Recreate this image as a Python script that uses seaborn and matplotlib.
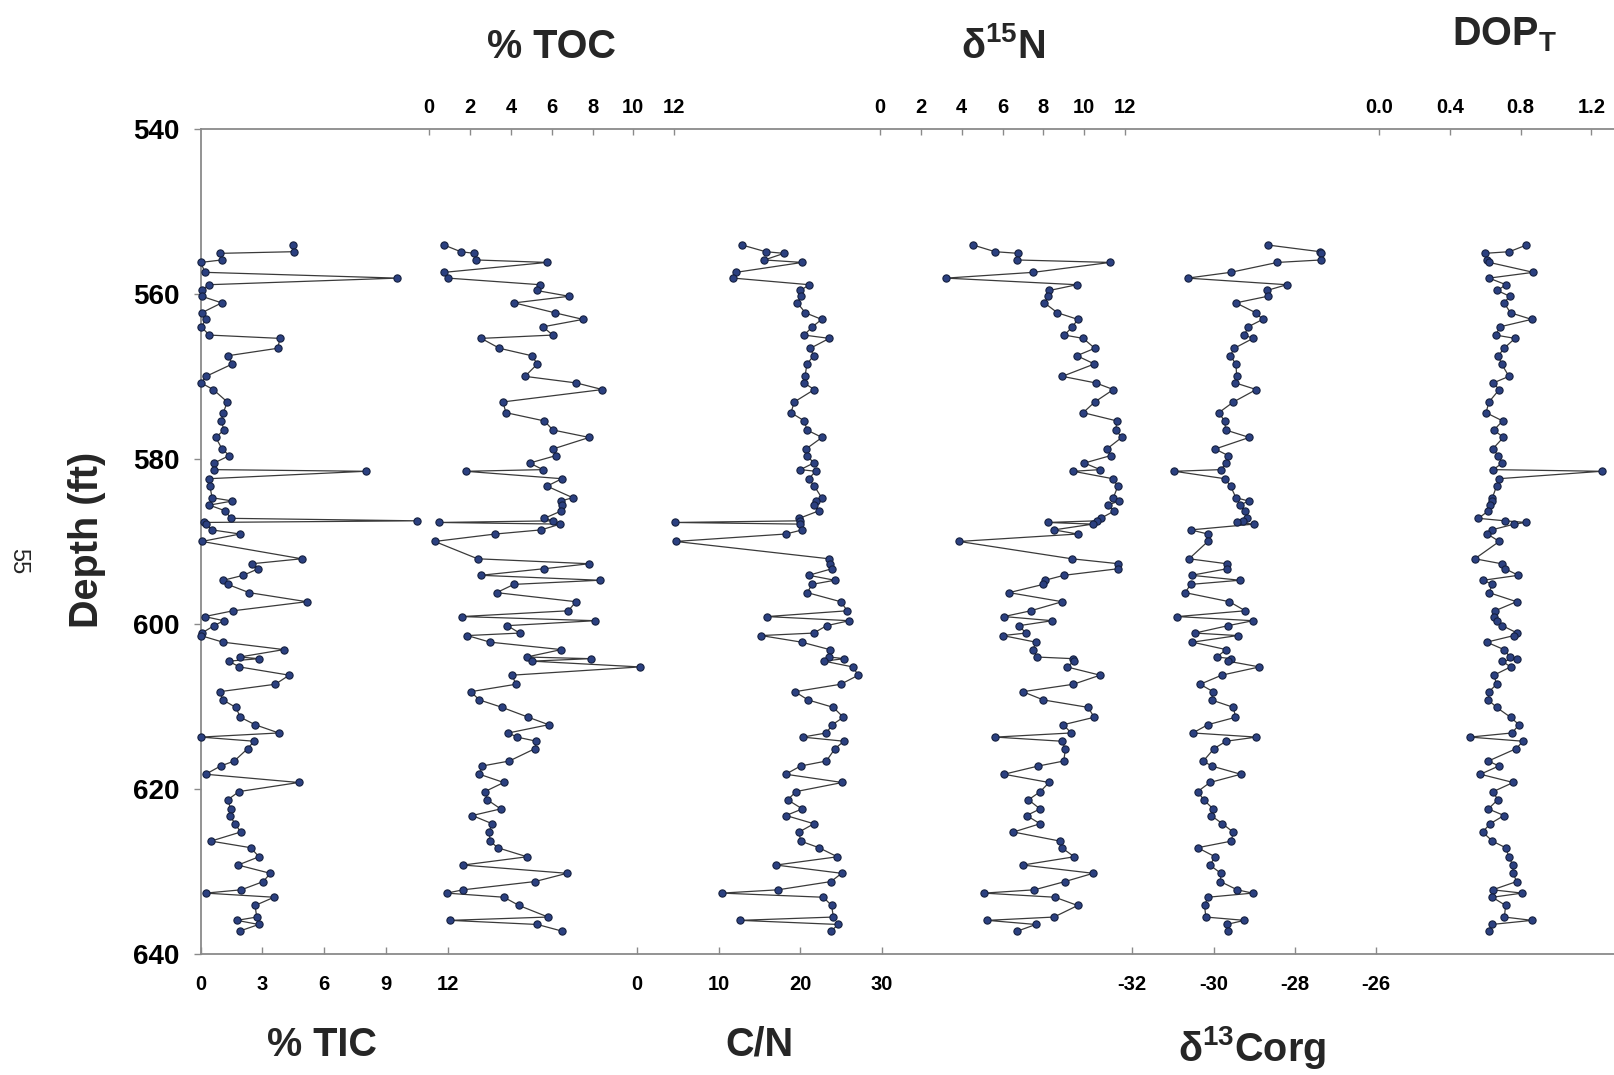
import matplotlib
matplotlib.use("Agg")
import matplotlib.pyplot as plt
import seaborn as sns

# ---------------- data ----------------
depth_ft = [554.1, 554.9, 555.1, 555.9, 556.2, 557.4, 558.1, 558.9, 559.6, 560.3,
            561.1, 562.3, 563.1, 564.0, 565.0, 565.4, 566.6, 567.5, 568.5, 570.0,
            570.8, 571.6, 573.1, 574.4, 575.4, 576.5, 577.4, 578.8, 579.6, 580.5,
            581.3, 581.5, 582.4, 583.3, 584.7, 585.1, 585.6, 586.3, 587.2, 587.5,
            587.7, 587.9, 588.6, 589.1, 590.0, 592.1, 592.7, 593.3, 594.1, 594.7,
            595.2,
            596.2, 597.3, 598.4, 599.1, 599.6, 600.2, 601.1, 601.4, 602.2, 603.1,
            604.0, 604.2, 604.5, 605.2, 606.2, 607.3, 608.2, 609.2, 610.1, 611.3,
            612.2, 613.2, 613.7, 614.2, 615.1, 616.6, 617.2, 618.2, 619.2, 620.3,
            621.3, 622.4, 623.2, 624.2, 625.2, 626.3, 627.1, 628.2, 629.2, 630.2,
            631.2, 632.2, 632.6, 633.1, 634.1, 635.5, 635.9, 636.4, 637.2]

tic_pct = [4.47, 4.51, 0.94, 1.02, 0.0, 0.21, 9.55, 0.39, 0.05, 0.05,
           1.02, 0.05, 0.26, 0.02, 0.42, 3.85, 3.74, 1.33, 1.54, 0.26,
           0.02, 0.61, 1.29, 1.10, 1.00, 1.13, 0.73, 1.04, 1.39, 0.65,
           0.65, 8.01, 0.40, 0.45, 0.55, 1.54, 0.42, 1.20, 1.46, 10.49,
           0.16, 0.26, 0.55, 1.91, 0.06, 4.90, 2.49, 2.80, 2.07, 1.10,
           1.31,
           2.35, 5.15, 1.57, 0.19, 1.12, 0.65, 0.05, 0.0, 1.08, 4.04,
           1.89, 2.83, 1.36, 1.88, 4.30, 3.62, 0.92, 1.08, 1.70, 1.93,
           2.64, 3.79, 0.0, 2.59, 2.28, 1.63, 0.97, 0.24, 4.76, 1.86,
           1.31, 1.46, 1.41, 1.67, 1.94, 0.50, 2.43, 2.83, 1.81, 3.38,
           3.04, 1.97, 0.24, 3.56, 2.64, 2.72, 1.76, 2.82, 1.89]

toc_pct = [0.74, 1.54, 2.21, 2.29, 5.77, 0.74, 0.92, 5.44, 5.26, 6.85,
           4.17, 6.15, 7.53, 5.57, 6.05, 2.55, 3.44, 5.02, 5.30, 4.69,
           7.21, 8.48, 3.61, 3.76, 5.64, 6.06, 7.84, 6.06, 6.21, 4.92,
           5.57, 1.79, 6.50, 5.77, 7.03, 6.45, 6.50, 6.47, 5.64, 6.08,
           0.50, 6.42, 5.48, 3.24, 0.27, 2.37, 7.84, 5.64, 2.52, 8.35,
           4.15,
           3.30, 7.19, 6.81, 1.59, 8.14, 3.83, 4.43, 1.87, 2.98, 6.47,
           4.77, 7.91, 5.02, 10.32, 4.06, 4.25, 2.03, 2.46, 3.57, 4.86,
           5.85, 3.88, 4.30, 5.25, 5.18, 3.92, 2.60, 2.46, 3.65, 2.73,
           2.85, 3.50, 2.11, 3.09, 2.93, 2.99, 3.35, 4.79, 1.66, 6.75,
           5.18, 1.66, 0.86, 3.66, 4.40, 5.82, 1.02, 5.30, 6.50]

cn_ratio = [12.89, 15.74, 17.99, 15.58, 20.23, 12.11, 11.78, 21.09, 19.99, 20.07,
            19.62, 20.60, 22.60, 21.46, 20.44, 23.54, 21.21, 21.62, 20.80, 20.56,
            20.44, 21.70, 19.25, 18.84, 20.48, 20.80, 22.64, 20.68, 20.84, 21.62,
            19.99, 21.87, 21.01, 21.70, 22.60, 21.87, 21.66, 22.23, 19.86, 19.95,
            4.68, 19.99, 20.23, 18.19, 4.72, 23.50, 23.62, 23.87, 21.01, 24.19,
            21.42,
            20.84, 24.93, 25.74, 15.91, 25.99, 23.21, 21.62, 15.17, 20.15, 23.58,
            23.54, 25.38, 22.89, 26.40, 27.09, 24.93, 19.33, 20.93, 24.03, 25.25,
            23.91, 23.17, 20.27, 25.33, 24.23, 23.17, 20.03, 18.19, 25.13, 19.46,
            18.44, 20.23, 18.23, 21.66, 19.82, 20.03, 22.27, 24.52, 17.01, 25.05,
            23.74, 17.25, 10.36, 22.80, 23.82, 24.03, 12.60, 24.64, 23.74]

d15n = [4.57, 5.63, 6.78, 6.69, 11.27, 7.51, 3.23, 9.64, 8.29, 8.25,
        8.05, 8.69, 9.69, 9.42, 9.03, 9.95, 10.52, 9.64, 10.50, 8.93,
        10.57, 11.43, 10.52, 9.95, 11.60, 11.55, 11.84, 11.11, 11.30, 10.01,
        10.78, 9.47, 11.40, 11.65, 11.43, 11.71, 11.15, 11.48, 10.81, 10.62,
        8.21, 10.42, 8.52, 9.68, 3.87, 9.39, 11.68, 11.68, 9.01, 8.08,
        8.00,
        6.32, 8.92, 7.38, 6.07, 8.44, 6.81, 7.14, 6.01, 7.63, 7.50,
        7.68, 9.46, 9.51, 9.15, 10.78, 9.47, 6.99, 8.00, 10.19, 10.49,
        8.98, 9.36, 5.65, 8.90, 9.08, 9.00, 7.76, 6.07, 8.28, 7.85,
        7.27, 7.84, 7.18, 7.84, 6.53, 8.82, 8.90, 9.51, 6.99, 10.44,
        9.06, 7.56, 5.09, 8.57, 9.68, 8.52, 5.26, 7.63, 6.73]

d13c_org = [-28.65, -27.38, -27.36, -27.35, -28.43, -29.58, -30.64, -28.20, -28.69, -28.67,
            -29.45, -28.96, -28.79, -29.15, -29.24, -29.03, -29.49, -29.59, -29.45, -29.43,
            -29.46, -28.95, -29.51, -29.87, -29.73, -29.70, -29.12, -29.96, -29.64, -29.69,
            -29.82, -30.96, -29.72, -29.58, -29.45, -29.14, -29.35, -29.23, -29.17, -29.27,
            -29.42, -29.01, -30.56, -30.14, -30.14, -30.60, -29.68, -29.66, -30.54, -29.35,
            -30.56,
            -30.70, -29.61, -29.22, -30.89, -29.03, -29.64, -30.46, -29.41, -30.52, -29.69,
            -29.92, -29.56, -29.65, -28.87, -29.80, -30.33, -30.01, -30.05, -29.51, -29.46,
            -30.14, -30.51, -28.95, -29.69, -29.99, -30.25, -30.05, -29.33, -30.09, -30.39,
            -30.24, -30.01, -30.06, -29.78, -29.52, -29.56, -30.39, -29.96, -30.09, -29.82,
            -29.83, -29.42, -29.04, -30.14, -30.22, -30.19, -29.24, -29.68, -29.64]

dop_t = [0.832, 0.736, 0.596, 0.612, 0.623, 0.872, 0.621, 0.717, 0.668, 0.738,
         0.706, 0.743, 0.862, 0.683, 0.659, 0.768, 0.706, 0.674, 0.692, 0.734,
         0.645, 0.679, 0.621, 0.604, 0.698, 0.649, 0.702, 0.642, 0.674, 0.696,
         0.645, 1.258, 0.677, 0.664, 0.640, 0.636, 0.627, 0.617, 0.561, 0.711,
         0.830, 0.764, 0.636, 0.612, 0.679, 0.541, 0.692, 0.711, 0.787, 0.589,
         0.640,
         0.621, 0.777, 0.655, 0.649, 0.664, 0.696, 0.781, 0.762, 0.608, 0.706,
         0.740, 0.781, 0.696, 0.743, 0.649, 0.664, 0.621, 0.617, 0.664, 0.743,
         0.791, 0.751, 0.513, 0.813, 0.775, 0.617, 0.677, 0.572, 0.758, 0.645,
         0.670, 0.617, 0.706, 0.627, 0.585, 0.640, 0.715, 0.734, 0.755, 0.758,
         0.777, 0.642, 0.809, 0.640, 0.715, 0.708, 0.864, 0.636, 0.619]

depth_ticks = [540, 560, 580, 600, 620, 640]
tic_ticks = [0, 3, 6, 9, 12]
toc_ticks = [0, 2, 4, 6, 8, 10, 12]
cn_ticks = [0, 10, 20, 30]
d15n_ticks = [0, 2, 4, 6, 8, 10, 12]
d13c_ticks = [-32, -30, -28, -26]
dop_ticks = [0.0, 0.4, 0.8, 1.2]
dop_labels = ["0.0", "0.4", "0.8", "1.2"]

# ---------------- style ----------------
sns.set_theme(style="white")
plt.rcParams['font.family'] = ['Liberation Sans', 'DejaVu Sans']
plt.rcParams['font.weight'] = 'bold'
plt.rcParams['mathtext.fontset'] = 'custom'
plt.rcParams['mathtext.rm'] = 'Liberation Sans:bold'
plt.rcParams['mathtext.it'] = 'Liberation Sans:bold'
plt.rcParams['mathtext.bf'] = 'Liberation Sans:bold'

W, H = 1614, 1075
fig = plt.figure(figsize=(W / 100, H / 100), dpi=100)
fig.patch.set_facecolor('white')

SPINE = '#8a8a8a'
TXT = 'black'
y_top_px, y_bot_px = 128.7, 954.2
B = 1 - y_bot_px / H
HT = (y_bot_px - y_top_px) / H
x_left = 200.7

ax = fig.add_axes([x_left / W, B, 1 - x_left / W, HT])
ax.set_facecolor('none')
ax.set_ylim(640, 540)
ax.set_yticks(depth_ticks)
ax.set_yticklabels([str(t) for t in depth_ticks], fontsize=20, fontweight='bold', color=TXT)
ax.set_xticks([])
ax.tick_params(axis='y', direction='out', length=5, width=1, color=SPINE, pad=10, left=True)
for s in ['left', 'top', 'bottom']:
    ax.spines[s].set_color(SPINE)
    ax.spines[s].set_linewidth(1.3)
ax.spines['right'].set_visible(False)

LINE = '#3a3a3a'
FACE = '#2b4080'
EDGE = '#15203f'


def panel(values, x_lo_px, x_hi_px, lo, hi, ticks, labels, side):
    w_px = x_hi_px - x_lo_px
    a = fig.add_axes([x_lo_px / W, B, w_px / W, HT], sharey=ax)
    a.set_facecolor('none')
    sns.lineplot(x=values, y=depth_ft, ax=a, orient='y', sort=True, estimator=None,
                 color=LINE, linewidth=0.9, marker='o', markersize=5.2,
                 markerfacecolor=FACE, markeredgecolor=EDGE, markeredgewidth=0.8,
                 clip_on=False, zorder=3)
    a.set_xlim(lo, hi)
    a.set_ylim(640, 540)
    a.set_xlabel('')
    a.set_ylabel('')
    for s in a.spines.values():
        s.set_visible(False)
    a.yaxis.set_visible(False)
    a.set_xticks(ticks)
    a.set_xticklabels(labels, fontsize=14.5, fontweight='bold', color=TXT)
    if side == 'top':
        a.xaxis.set_ticks_position('top')
        a.xaxis.set_label_position('top')
        a.tick_params(axis='x', direction='in', length=4, width=1, color=SPINE,
                      pad=8.5, top=True, bottom=False, labeltop=True, labelbottom=False)
    else:
        a.xaxis.set_ticks_position('bottom')
        a.tick_params(axis='x', direction='in', length=5, width=1, color=SPINE,
                      pad=15, top=False, bottom=True, labeltop=False, labelbottom=True)
    return a


panel(tic_pct, 200.7, 447.8, 0, 12, tic_ticks, [str(t) for t in tic_ticks], 'bottom')
panel(toc_pct, 429.2, 674.2, 0, 12, toc_ticks, [str(t) for t in toc_ticks], 'top')
panel(cn_ratio, 637.1, 882.1, 0, 30, cn_ticks, [str(t) for t in cn_ticks], 'bottom')
panel(d15n, 880.1, 1125.0, 0, 12, d15n_ticks, [str(t) for t in d15n_ticks], 'top')
panel(d13c_org, 1132.2, 1376.2, -32, -26, d13c_ticks, [str(t) for t in d13c_ticks], 'bottom')
panel(dop_t, 1379.3, 1591.3, 0.0, 1.2, dop_ticks, dop_labels, 'top')


def ftext(x_px, y_px, s, **kw):
    fig.text(x_px / W, 1 - y_px / H, s, **kw)


TS = 28.5
ftext(551.7, 57.6, "% TOC", ha='center', va='baseline', fontsize=TS, fontweight='bold')
ftext(1003.6, 57.6, "δ$^{15}$N", ha='center', va='baseline', fontsize=TS, fontweight='bold')
ftext(1504.0, 45.3, "DOP$_{\\mathrm{T}}$", ha='center', va='baseline', fontsize=TS, fontweight='bold')
ftext(322.2, 1056.0, "% TIC", ha='center', va='baseline', fontsize=TS, fontweight='bold')
ftext(759.6, 1056.0, "C/N", ha='center', va='baseline', fontsize=TS, fontweight='bold')
ftext(1252.0, 1061.0, "δ$^{13}$Corg", ha='center', va='baseline', fontsize=TS, fontweight='bold')
ftext(87.5, 540.0, "Depth (ft)", ha='center', va='center', rotation=90, fontsize=TS, fontweight='bold')
ftext(18.5, 561.0, "55", ha='center', va='center', rotation=-90, fontsize=17, fontweight='normal')

fig.savefig('out.png', dpi=100, facecolor='white')
